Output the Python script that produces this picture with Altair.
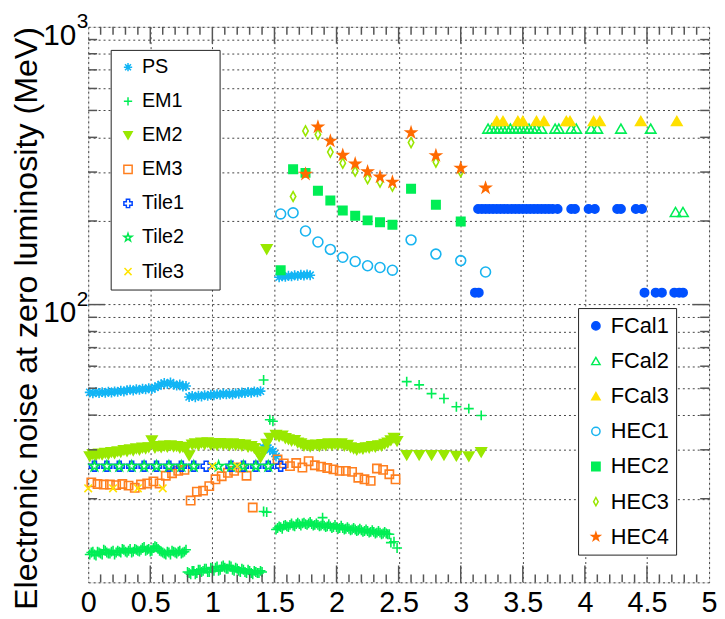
import altair as alt
import pandas as pd

W, H = 627, 561
FONT = "Liberation Sans"

# ---------------- data ----------------
ps_vals = [48.3, 47.9, 48.5, 48.0, 48.4, 48.1, 48.6, 48.2, 48.7, 48.5,
           49.0, 48.6, 49.2, 49.4, 49.0, 49.6, 49.3, 49.8, 49.5, 50.0,
           49.7, 50.3, 50.9, 51.6, 52.2, 51.8, 52.4, 51.5, 51.1, 51.6,
           50.7, 50.9, 46.5, 46.9, 46.4, 47.0, 46.7, 47.2, 46.9, 47.4,
           47.1, 47.6, 47.3, 47.9, 47.5, 47.8, 47.4, 48.0, 47.7, 48.3,
           48.0, 48.5, 48.1, 48.7, 48.3, 48.8,
           30.5, 31.2, 30.0, 29.6, 28.4]
ps_ec_vals = [125.5, 126.3, 125.8, 127.0, 126.4, 127.5, 126.9, 128.0, 127.3, 128.3, 127.6]

em1_b_vals = [12.6, 12.9, 12.5, 12.8, 12.6, 13.0, 12.7, 12.9, 12.6, 13.0,
              12.8, 13.1, 12.8, 13.2, 12.9, 13.1, 12.9, 13.3, 13.0, 13.2,
              13.0, 13.5, 13.2, 12.9, 12.7, 12.9, 12.6, 12.9, 12.7, 13.0,
              12.8, 13.1,
              10.8, 11.0, 10.7, 11.1, 10.9, 11.2, 10.9, 11.3, 11.0, 11.4,
              11.1, 11.5, 11.2, 11.5, 11.1, 11.3, 11.0, 11.2, 10.9, 11.1,
              10.8, 11.0, 10.8, 11.0]
# second, interleaved set of barrel cells (0.025 .. 1.4)
em1_b2_vals = [12.8, 12.6, 12.9, 12.7, 13.1, 12.8, 12.7, 13.0, 12.8, 12.9,
               13.2, 12.9, 13.0, 12.8, 13.2, 13.0, 13.1, 13.4, 13.1, 12.9,
               13.3, 13.4, 13.0, 12.8, 12.6, 12.8, 13.0, 12.8, 12.9, 12.7,
               12.9,
               10.9, 10.7, 11.0, 10.8, 11.1, 11.0, 11.2, 10.9, 11.2, 11.3,
               11.0, 11.4, 11.3, 11.2, 11.4, 11.0, 11.2, 10.9, 11.1, 10.8,
               11.0, 10.7, 10.9, 10.8, 10.9]
em1_ec_vals = [15.5, 15.9, 15.6, 16.1, 15.8, 16.3, 15.9, 16.4, 16.0, 16.4,
               16.1, 16.5, 16.0, 16.3, 15.9, 16.2, 15.8, 16.2, 15.7, 16.1,
               15.6, 16.0, 15.5, 15.8, 15.4, 15.7, 15.3, 15.6, 15.2, 15.5,
               15.1, 15.4, 15.0, 15.3, 14.9, 15.2, 14.9, 13.9, 14.0, 13.3]
# second, interleaved set of end-cap cells (1.525 .. 2.425)
em1_ec2_vals = [15.7, 15.8, 16.0, 15.9, 16.1, 16.0, 16.2, 16.2, 16.3, 16.2,
                16.3, 16.2, 16.1, 16.1, 16.0, 16.0, 15.9, 15.9, 15.8, 15.8,
                15.7, 15.7, 15.6, 15.6, 15.5, 15.5, 15.4, 15.4, 15.3, 15.3,
                15.2, 15.2, 15.1, 15.1, 15.0, 15.0, 14.9]
em1_x_extra = [1.4125, 1.4125, 1.4375, 1.4625, 1.4875, 1.8875,
               2.565, 2.665, 2.765, 2.865, 2.965, 3.065, 3.165]
em1_y_extra = [53.5, 18.0, 17.9, 38.5, 38.0, 17.1,
               52.8, 51.4, 47.8, 45.9, 42.9, 42.2, 39.9]

em2_b_vals = [28.4, 28.9, 28.6, 29.0, 28.8, 29.2, 28.9, 29.4, 29.1, 29.6,
              29.4, 29.9, 29.6, 30.1, 29.8, 30.3, 30.0, 30.5, 30.3, 30.6,
              32.4, 30.5, 30.9, 30.6, 31.0, 30.7, 31.1, 30.8, 30.9, 30.5,
              30.7, 30.3, 28.6, 31.3, 31.6, 31.2, 31.8, 31.4, 31.9, 31.3,
              31.6, 31.2, 31.7, 31.3, 31.5, 31.1, 31.6, 31.2, 31.4, 31.0,
              31.3, 30.7, 30.9, 30.4, 29.5, 28.1, 29.5, 31.5, 33.1]
em2_ec_vals = [33.9, 33.5, 33.7, 33.0, 32.7, 32.3, 32.5, 31.8, 31.6, 31.0,
               31.2, 30.8, 31.1, 31.3, 30.9, 31.4, 31.1, 31.6, 31.2, 31.5,
               31.3, 31.6, 31.0, 31.2, 30.6, 30.3, 30.0, 30.4, 30.2, 30.6,
               30.5, 30.9, 30.7, 31.1, 31.0, 31.5, 31.8, 32.4, 33.1, 32.2]
em2_x_extra = [1.4375, 2.565, 2.665, 2.765, 2.865, 2.965, 3.065, 3.165]
em2_y_extra = [158.0, 28.7, 28.7, 28.7, 28.7, 28.5, 28.4, 29.4]

em3_b_vals = [22.9, 22.6, 22.5, 22.5, 22.4, 22.6, 22.3, 21.9, 22.5, 22.7,
              23.1, 22.7, 24.2, 24.7, 25.2, 25.4, 19.7, 21.2, 21.4, 22.2,
              23.5, 24.1, 24.8, 25.2, 25.9, 24.2, 18.6]
em3_ec_vals = [27.7, 26.8, 26.2, 26.9, 25.9, 27.3, 26.4, 26.1, 25.8, 25.5,
               25.2, 25.2, 25.0, 23.8, 23.5, 23.2, 25.7, 25.4, 24.5, 23.5]

tile1_x = [0.05, 0.15, 0.25, 0.35, 0.45, 0.55, 0.65, 0.75, 0.85, 0.95,
           1.15, 1.25, 1.35, 1.45, 1.55]
tile1_y = [26.2] * len(tile1_x)
tile2_x = [0.05, 0.15, 0.25, 0.35, 0.45, 0.55, 0.65, 0.75, 0.85,
           1.05, 1.15, 1.25, 1.35, 1.45]
tile2_y = [26.2] * len(tile2_x)
tile3_x = [0.0, 0.2, 0.4, 0.6, 1.0, 1.2]
tile3_y = [21.8, 21.8, 21.8, 21.8, 26.2, 26.2]

fcal1_x = [3.14, 3.17, 3.20, 3.23, 3.26, 3.29, 3.32, 3.35, 3.38, 3.41,
           3.44, 3.47, 3.50, 3.53, 3.56, 3.59, 3.62, 3.65, 3.68, 3.71,
           3.74, 3.78, 3.89, 3.92, 4.03, 4.08, 4.26, 4.29, 4.41, 4.46,
           3.115, 3.145, 4.48, 4.57, 4.62, 4.72, 4.76, 4.79]
fcal1_y = [221.0] * 30 + [110.4] * 8
fcal2_x = [3.22, 3.25, 3.28, 3.31, 3.34, 3.37, 3.40, 3.43, 3.46, 3.49,
           3.52, 3.55, 3.58, 3.61, 3.65, 3.76, 3.79, 3.89, 3.93, 4.05,
           4.10, 4.29, 4.53, 4.73, 4.79]
fcal2_y = [430.0] * 23 + [215.5, 215.5]
fcal3_x = [3.29, 3.34, 3.46, 3.50, 3.61, 3.67, 3.85, 3.88, 4.07, 4.12, 4.45, 4.74]
fcal3_y = [458.0] * len(fcal3_x)

hec1_x = [1.55, 1.65, 1.75, 1.85, 1.95, 2.05, 2.15, 2.25, 2.35, 2.45, 2.6, 2.8, 3.0, 3.2]
hec1_y = [212, 214, 184, 168, 158, 148, 143, 138, 136, 133, 171, 152, 144, 131]
hec2_x = [1.55, 1.65, 1.75, 1.85, 1.95, 2.05, 2.15, 2.25, 2.35, 2.45, 2.6, 2.8, 3.0]
hec2_y = [133, 307, 298, 257, 237, 218, 209, 201, 198, 194, 261, 229, 199]
hec3_x = [1.65, 1.75, 1.85, 1.95, 2.05, 2.15, 2.25, 2.35, 2.45, 2.6, 2.8, 3.0]
hec3_y = [245, 422, 410, 354, 323, 302, 284, 276, 267, 383, 326, 301]
hec4_x = [1.75, 1.85, 1.95, 2.05, 2.15, 2.25, 2.35, 2.45, 2.6, 2.8, 3.0, 3.2]
hec4_y = [295, 436, 388, 345, 321, 301, 288, 276, 416, 344, 310, 263]


def grid(start, step, vals):
    return [round(start + step * i, 4) for i in range(len(vals))]


def frame(name, pairs):
    xs_, ys_ = [], []
    for a, b in pairs:
        xs_ += list(a)
        ys_ += list(b)
    return pd.DataFrame({"series": name, "x": xs_, "y": ys_})


series_data = {
    "PS": frame("PS", [(grid(0.0125, 0.025, ps_vals), ps_vals),
                       (grid(1.5375, 0.025, ps_ec_vals), ps_ec_vals)]),
    "EM1": frame("EM1", [(grid(0.0125, 0.025, em1_b_vals), em1_b_vals),
                         (grid(0.025, 0.025, em1_b2_vals), em1_b2_vals),
                         (grid(1.5125, 0.025, em1_ec_vals), em1_ec_vals),
                         (grid(1.525, 0.025, em1_ec2_vals), em1_ec2_vals),
                         (em1_x_extra, em1_y_extra)]),
    "EM2": frame("EM2", [(grid(0.0125, 0.025, em2_b_vals), em2_b_vals),
                         (grid(1.5125, 0.025, em2_ec_vals), em2_ec_vals),
                         (em2_x_extra, em2_y_extra)]),
    "EM3": frame("EM3", [(grid(0.025, 0.05, em3_b_vals), em3_b_vals),
                         (grid(1.525, 0.05, em3_ec_vals), em3_ec_vals)]),
    "Tile1": frame("Tile1", [(tile1_x, tile1_y)]),
    "Tile2": frame("Tile2", [(tile2_x, tile2_y)]),
    "Tile3": frame("Tile3", [(tile3_x, tile3_y)]),
    "FCal1": frame("FCal1", [(fcal1_x, fcal1_y)]),
    "FCal2": frame("FCal2", [(fcal2_x, fcal2_y)]),
    "FCal3": frame("FCal3", [(fcal3_x, fcal3_y)]),
    "HEC1": frame("HEC1", [(hec1_x, hec1_y)]),
    "HEC2": frame("HEC2", [(hec2_x, hec2_y)]),
    "HEC3": frame("HEC3", [(hec3_x, hec3_y)]),
    "HEC4": frame("HEC4", [(hec4_x, hec4_y)]),
}

# ---------------- styles ----------------
STAR = ("M0,-1L0.223,-0.307L0.951,-0.309L0.361,0.117L0.588,0.809L0,0.38"
        "L-0.588,0.809L-0.361,0.117L-0.951,-0.309L-0.223,-0.307Z")
ASTER = "M-1,0L1,0M0,-1L0,1M-0.72,-0.72L0.72,0.72M-0.72,0.72L0.72,-0.72"
PLUS = "M-1,0L1,0M0,-1L0,1"
XMARK = "M-0.85,-0.85L0.85,0.85M-0.85,0.85L0.85,-0.85"
THIN_DIAMOND = "M0,-1L0.55,0L0,1L-0.55,0Z"

L_names = ["PS", "EM1", "EM2", "EM3", "Tile1", "Tile2", "Tile3"]
L_color = ["#12B5F5", "#00EE55", "#99E800", "#FF7F1F", "#0044FF", "#00E850", "#FFE400"]
L_fill = ["transparent", "transparent", "#99E800", "transparent", "transparent",
          "transparent", "transparent"]
L_shape = [ASTER, PLUS, "triangle-down", "square", "cross", STAR, XMARK]
L_size = [100, 100, 110, 70, 100, 110, 81]

R_names = ["FCal1", "FCal2", "FCal3", "HEC1", "HEC2", "HEC3", "HEC4"]
R_color = ["#0050FF", "#00EE55", "#FFE000", "#18B4F0", "#00EE55", "#99E600", "#FF6A00"]
R_fill = ["#0050FF", "transparent", "#FFE000", "transparent", "#00EE55",
          "transparent", "#FF6A00"]
R_shape = ["circle", "triangle-up", "triangle-up", "circle", "square", THIN_DIAMOND, STAR]
R_size = [72, 110, 110, 100, 72, 100, 110]

xs = alt.Scale(domain=[0, 5], nice=False, zero=False)
ys = alt.Scale(type="log", domain=[10, 1000], nice=False)

x_axis = alt.Axis(
    values=[0, 0.5, 1, 1.5, 2, 2.5, 3, 3.5, 4, 4.5, 5], format="~g", title=None,
    grid=True, gridDash=[2, 3], gridColor="#444", gridWidth=1,
    ticks=False, tickSize=0, domain=False, labelFontSize=29, labelFont=FONT,
    labelColor="black", labelPadding=6, labelFlush=False)
y_axis = alt.Axis(
    values=[10, 20, 30, 40, 50, 60, 70, 80, 90, 100, 200, 300, 400, 500, 600,
            700, 800, 900, 1000],
    title="Electronic noise at zero luminosity (MeV)", titleFont=FONT,
    titleFontSize=32.5, titleFontWeight="normal", titleColor="black",
    titleX=-45, titleY=294, titleAngle=270, titleBaseline="bottom",
    grid=True, gridDash=[2, 3], gridColor="#444", gridWidth=1,
    ticks=False, tickSize=0, domain=False, labels=False)


def X(field):
    return alt.X(field, scale=xs, axis=x_axis)


def Y(field):
    return alt.Y(field, scale=ys, axis=y_axis)


# figure spaces (kept from trimming by a final zero-width space) widen the left box
legL = alt.Legend(orient="none", legendX=22.7, legendY=23.3, title=None,
                  fillColor="white", strokeColor="#222", padding=7.5,
                  rowPadding=14.4, labelFontSize=20, labelFont=FONT,
                  labelColor="black", symbolSize=70, symbolStrokeWidth=1.5,
                  labelExpr="datum.label + '\u2007\u2007\u2008\u200b'")
legR = alt.Legend(orient="none", legendX=494.7, legendY=284, title=None,
                  fillColor="white", strokeColor="#222", padding=7,
                  rowPadding=13.5, labelFontSize=22, labelFont=FONT,
                  labelColor="black", symbolSize=70, symbolStrokeWidth=1.5)


def group(names, colors, fills, shapes, sizes, leg):
    sc_f = alt.Scale(domain=names, range=fills)
    sc_s = alt.Scale(domain=names, range=colors)
    sc_h = alt.Scale(domain=names, range=shapes)
    layers = []
    for name, sz in zip(names, sizes):
        layers.append(
            alt.Chart(series_data[name]).mark_point(
                opacity=1, strokeWidth=1.6, size=sz
            ).encode(
                x=X("x:Q"), y=Y("y:Q"),
                fill=alt.Fill("series:N", scale=sc_f, legend=leg),
                stroke=alt.Stroke("series:N", scale=sc_s, legend=leg),
                shape=alt.Shape("series:N", scale=sc_h, legend=leg),
            )
        )
    return alt.layer(*layers)


left_group = group(L_names, L_color, L_fill, L_shape, L_size, legL)
right_group = group(R_names, R_color, R_fill, R_shape, R_size, legR)

# ---------------- inward ticks on all four sides ----------------
x_major = [0.5, 1, 1.5, 2, 2.5, 3, 3.5, 4, 4.5]
x_minor = [round(0.1 * i, 1) for i in range(1, 50) if i % 5 != 0]
y_major = [100]
y_minor = [20, 30, 40, 50, 60, 70, 80, 90, 200, 300, 400, 500, 600, 700, 800, 900]
TICK_COLOR = "#555"


def xticks(vals, length, top):
    d = pd.DataFrame({"v": vals})
    if top:
        enc = dict(y=alt.value(0), y2=alt.value(length))
    else:
        enc = dict(y=alt.value(H), y2=alt.value(H - length))
    return alt.Chart(d).mark_rule(color=TICK_COLOR, strokeWidth=1.5).encode(x=X("v:Q"), **enc)


def yticks(vals, length, right):
    d = pd.DataFrame({"v": vals})
    if right:
        enc = dict(x=alt.value(W), x2=alt.value(W - length))
    else:
        enc = dict(x=alt.value(0), x2=alt.value(length))
    return alt.Chart(d).mark_rule(color=TICK_COLOR, strokeWidth=1.5).encode(y=Y("v:Q"), **enc)


ticks = [xticks(x_major, 17, False), xticks(x_minor, 8, False),
         xticks(x_major, 17, True), xticks(x_minor, 8, True),
         yticks(y_major, 17, False), yticks(y_minor, 9, False),
         yticks(y_major, 17, True), yticks(y_minor, 9, True)]

# ---------------- y-axis labels 10^2, 10^3 as real text ----------------
ylab = pd.DataFrame({"v": [100, 1000], "base": ["10", "10"], "exp": ["2", "3"]})
ylab_base = alt.Chart(ylab).mark_text(
    align="right", baseline="middle", fontSize=30, font=FONT, color="black", dy=9
).encode(y=Y("v:Q"), x=alt.value(-12), text="base:N")
ylab_exp = alt.Chart(ylab).mark_text(
    align="left", baseline="middle", fontSize=21, font=FONT, color="black", dy=-5
).encode(y=Y("v:Q"), x=alt.value(-11.5), text="exp:N")

chart = alt.layer(
    left_group, right_group, *ticks, ylab_base, ylab_exp
).resolve_scale(
    fill="independent", stroke="independent", shape="independent"
).properties(
    width=W, height=H,
    autosize=alt.AutoSizeParams(type="none"),
    padding={"left": 81, "top": 16, "right": 8, "bottom": 34},
).configure_view(
    stroke="#111", strokeWidth=1.5
).configure(background="white")

chart.save("out.html", embed_options={"renderer": "svg", "actions": False})
